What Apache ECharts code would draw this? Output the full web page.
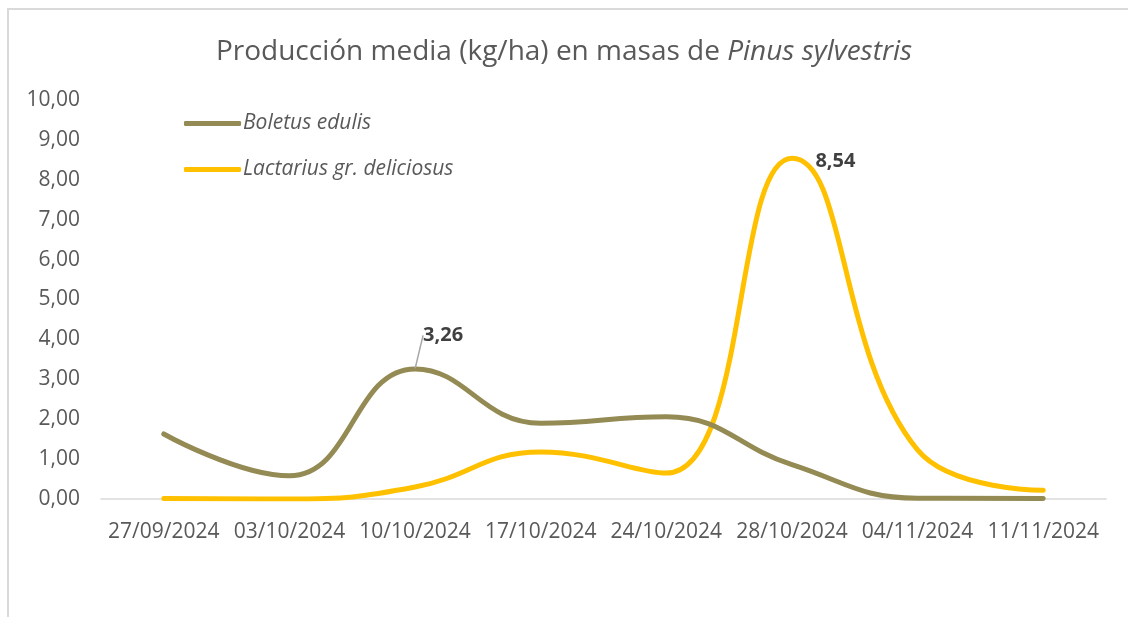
<!DOCTYPE html>
<html>
<head>
<meta charset="utf-8">
<script src="https://cdn.jsdelivr.net/npm/echarts@6/dist/echarts.min.js"></script>
<style>
  html, body { margin: 0; padding: 0; background: #fff; }
  #chart { width: 1128px; height: 617px; }
  #frame {
    position: absolute; left: 7px; top: 8px; right: -4px; bottom: -4px;
    border: 2px solid #d9d9d9; pointer-events: none;
  }
</style>
</head>
<body>
<div id="chart"></div>
<div id="frame"></div>
<script>
// fechas de muestreo
const dates = ['27/09/2024', '03/10/2024', '10/10/2024', '17/10/2024', '24/10/2024', '28/10/2024', '04/11/2024', '11/11/2024']
// kg/ha
const boletus = [1.63, 0.58, 3.26, 1.90, 2.06, 0.86, 0.02, 0.01]
const lactarius = [0.01, 0.0, 0.30, 1.18, 0.65, 8.54, 1.23, 0.22]
const yTicks = [0, 1, 2, 3, 4, 5, 6, 7, 8, 9, 10]

const fontFamily = '"Open Sans", sans-serif'
const greyText = '#595959'

const fmt = v => Number(v).toFixed(2).replace('.', ',')

// only the peak values carry a label (needs a symbol, kept transparent)
function withPeakLabel(arr, peakIdx) {
	return arr.map((v, i) => i === peakIdx ? {
		value: v,
		symbol: 'circle',
		symbolSize: 1,
		itemStyle: { color: 'rgba(0,0,0,0)', borderWidth: 0 },
		label: { show: true }
	} : v)
}

const chart = echarts.init(document.getElementById('chart'))

chart.setOption({
	animation: false,
	title: {
		text: 'Producción media (kg/ha) en masas de {i|Pinus sylvestris}',
		left: 'center',
		top: 33,
		textStyle: {
			fontFamily,
			fontSize: 28,
			fontWeight: 'normal',
			color: greyText,
			rich: {
				i: { fontFamily, fontSize: 28, fontStyle: 'italic', color: greyText }
			}
		}
	},
	legend: {
		orient: 'vertical',
		left: 179,
		top: 108,
		itemWidth: 57,
		itemHeight: 5,
		itemGap: 25,
		icon: 'roundRect',
		textStyle: { fontFamily, fontSize: 21, fontStyle: 'italic', color: greyText, padding: [0, 0, 0, -3] },
		data: ['Boletus edulis', 'Lactarius gr. deliciosus']
	},
	grid: {
		left: 101,
		right: 22,
		top: 100,
		bottom: 118
	},
	xAxis: {
		type: 'category',
		data: dates,
		boundaryGap: true,
		axisLine: { lineStyle: { color: '#d9d9d9', width: 1.5 } },
		axisTick: { show: false },
		axisLabel: { fontFamily, fontSize: 21, color: greyText, margin: 23, interval: 0 }
	},
	yAxis: {
		type: 'value',
		min: yTicks[0],
		max: yTicks[yTicks.length - 1],
		interval: 1,
		splitLine: { show: false },
		axisLine: { show: false },
		axisTick: { show: false },
		axisLabel: { fontFamily, fontSize: 21, color: greyText, margin: 21, formatter: fmt }
	},
	series: [{
		name: 'Boletus edulis',
		type: 'line',
		smooth: 0.45,
		symbol: 'none',
		color: '#948A54',
		lineStyle: { width: 5, color: '#948A54', cap: 'round' },
		data: withPeakLabel(boletus, 2),
		label: {
			position: 'top',
			distance: 5,
			opacity: 1,
			fontFamily,
			fontSize: 20,
			fontWeight: 'bold',
			color: '#404040',
			formatter: p => fmt(p.value)
		},
		labelLayout: { dx: 28, dy: -18 },
		labelLine: { show: true, lineStyle: { color: '#a6a6a6', width: 1.5 } },
		z: 3
	}, {
		name: 'Lactarius gr. deliciosus',
		type: 'line',
		smooth: 0.45,
		symbol: 'none',
		color: '#FFC000',
		lineStyle: { width: 5, color: '#FFC000', cap: 'round' },
		data: withPeakLabel(lactarius, 5),
		label: {
			position: 'right',
			distance: 23,
			offset: [0, 3],
			opacity: 1,
			fontFamily,
			fontSize: 20,
			fontWeight: 'bold',
			color: '#404040',
			formatter: p => fmt(p.value)
		},
		z: 2
	}]
})
</script>
</body>
</html>
